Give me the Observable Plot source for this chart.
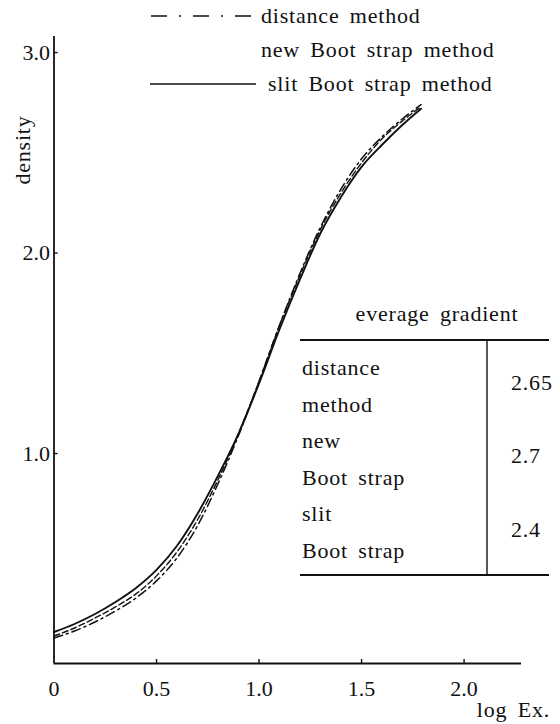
<!DOCTYPE html>
<html><head><meta charset="utf-8">
<script src="https://cdn.jsdelivr.net/npm/d3@7"></script>
<script src="https://cdn.jsdelivr.net/npm/@observablehq/plot@0.6"></script>
<style>
body{margin:0;background:#fff;}
#wrap{width:560px;height:724px;}
</style></head><body><div id="wrap"></div>
<script>
// ---- data ----
const logEx = [0, 0.1, 0.2, 0.3, 0.4, 0.5, 0.6, 0.7, 0.8, 0.9, 1.0, 1.1, 1.2, 1.3, 1.4, 1.5, 1.6, 1.7, 1.79];
const slitDensity     = [0.11, 0.15, 0.20, 0.26, 0.33, 0.42, 0.54, 0.70, 0.89, 1.10, 1.35, 1.62, 1.87, 2.10, 2.28, 2.43, 2.54, 2.64, 2.72];
const distanceDensity = [0.08, 0.115, 0.16, 0.215, 0.28, 0.365, 0.48, 0.64, 0.85, 1.09, 1.36, 1.64, 1.90, 2.13, 2.32, 2.47, 2.58, 2.67, 2.74];
const newBootDensity  = [0.09, 0.13, 0.18, 0.235, 0.30, 0.39, 0.51, 0.67, 0.87, 1.10, 1.36, 1.64, 1.89, 2.12, 2.30, 2.45, 2.57, 2.66, 2.73];

const xTicks = [0, 0.5, 1.0, 1.5, 2.0];
const xTickLabels = ["0", "0.5", "1.0", "1.5", "2.0"];
const yTicks = [1, 2, 3];
const yTickLabels = ["1.0", "2.0", "3.0"];

const methodNames = ["distance method", "new Boot strap method", "slit Boot strap method"];
const tableTitle = "everage gradient";
const tableRowLabels = [["distance", "method"], ["new", "Boot strap"], ["slit", "Boot strap"]];
const gradients = ["2.65", "2.7", "2.4"];

const xLabel = "log Ex.";
const yLabel = "density";

// ---- chart ----
const xDomain = [0, 2.28];
const yDomain = [-0.047, 3.08];
const ink = "#111";
const font = "Liberation Serif, Times New Roman, serif";

const rows = (ys) => logEx.map((x, i) => ({x, y: ys[i]}));

const plot = Plot.plot({
  width: 560,
  height: 724,
  marginLeft: 53.5,
  marginRight: 39,
  marginTop: 36,
  marginBottom: 61,
  x: {domain: xDomain},
  y: {domain: yDomain},
  style: {fontFamily: font, fontSize: "22px", color: ink, background: "white"},
  marks: [
    Plot.axisX({ticks: xTicks, tickFormat: (d, i) => xTickLabels[i], tickSize: 0, tickPadding: 17, label: null, fontSize: 22}),
    Plot.axisY({ticks: yTicks, tickFormat: (d, i) => yTickLabels[i], tickSize: 0, tickPadding: 4, label: null, fontSize: 22}),
    Plot.ruleY([yDomain[0]], {stroke: ink, strokeWidth: 1.8}),
    Plot.ruleX([0], {y1: yDomain[0], y2: yDomain[1], stroke: ink, strokeWidth: 1.8}),
    Plot.ruleX(xTicks.slice(1), {y1: yDomain[0], y2: yDomain[0] + 0.02, stroke: ink, strokeWidth: 1.4}),
    Plot.ruleY(yTicks, {x1: 0, x2: 0.02, stroke: ink, strokeWidth: 1.4}),
    Plot.line(rows(distanceDensity), {x: "x", y: "y", curve: "monotone-x", stroke: ink, strokeWidth: 1.5, strokeDasharray: "9,4,2,4"}),
    Plot.line(rows(newBootDensity), {x: "x", y: "y", curve: "monotone-x", stroke: ink, strokeWidth: 1.4, strokeDasharray: "6,3"}),
    Plot.line(rows(slitDensity), {x: "x", y: "y", curve: "monotone-x", stroke: ink, strokeWidth: 1.9})
  ]
});
document.getElementById("wrap").appendChild(plot);

// ---- annotations: axis titles, legend, inset table ----
const svg = d3.select(plot);
const g = svg.append("g").attr("font-family", font).attr("font-size", 22).attr("fill", ink)
  .attr("text-anchor", "start").attr("letter-spacing", "0.8px").attr("word-spacing", "4px");

g.append("text").attr("transform", "translate(30,150) rotate(-90)").attr("text-anchor", "middle").text(yLabel);
g.append("text").attr("x", 550).attr("y", 717).attr("text-anchor", "end").text(xLabel);

// legend
const legendBase = [23, 57, 91];
const legendX = [261, 261, 268];
g.append("line").attr("x1", 151).attr("x2", 251).attr("y1", 16).attr("y2", 16)
  .attr("stroke", ink).attr("stroke-width", 1.6).attr("stroke-dasharray", "16,12,2,12");
g.append("line").attr("x1", 150).attr("x2", 256).attr("y1", 84).attr("y2", 84)
  .attr("stroke", ink).attr("stroke-width", 1.6);
methodNames.forEach((m, i) => g.append("text").attr("x", legendX[i]).attr("y", legendBase[i]).text(m));

// inset table
g.append("text").attr("x", 437).attr("y", 321).attr("text-anchor", "middle").text(tableTitle);
const tl = g.append("g").attr("stroke", ink).attr("stroke-width", 1.8);
tl.append("line").attr("x1", 300).attr("x2", 549).attr("y1", 340).attr("y2", 340);
tl.append("line").attr("x1", 300).attr("x2", 549).attr("y1", 575).attr("y2", 575);
tl.append("line").attr("x1", 487).attr("x2", 487).attr("y1", 340).attr("y2", 575).attr("stroke-width", 1.4);
const rowBase = [[375, 412], [448, 485], [521, 558]];
const valBase = [390, 463, 537];
tableRowLabels.forEach((pair, i) => {
  pair.forEach((lab, j) => g.append("text").attr("x", 302).attr("y", rowBase[i][j]).text(lab));
  g.append("text").attr("x", 511).attr("y", valBase[i]).text(gradients[i]);
});
</script>
</body></html>
